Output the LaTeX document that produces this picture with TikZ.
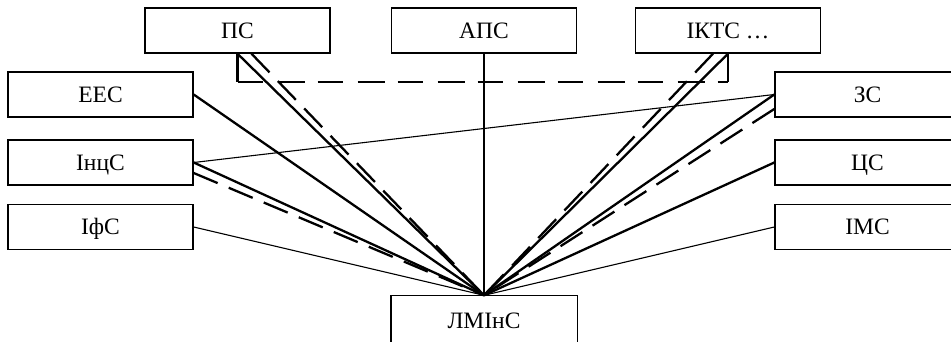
\documentclass[tikz,border=0pt]{standalone}
\usepackage{fontspec}
\setmainfont{Liberation Serif}
\begin{document}
\begin{tikzpicture}[x=1pt,y=-1pt,
  box/.style={draw,line width=1.4pt,minimum width=185pt,minimum height=45pt,inner sep=0pt,
    text height=15.6pt,text depth=0pt,font=\fontsize{23.5}{27}\selectfont},
  bare/.style={box,draw=none,text height=19pt},
  thk/.style={line width=2.3pt},
  thn/.style={line width=1.1pt},
  dsh/.style={line width=2.3pt,dash pattern=on 26pt off 12pt}]
\path[use as bounding box] (0,0) rectangle (951,341);
\clip (0,0) rectangle (951,341);
% boxes
\node[box] (ps)   at (237.5,30.5) {ПС};
\node[box] (aps)  at (484,30.5)   {АПС};
\node[box] (ikts) at (728,30.5)   {ІКТС …};
\node[box] (ees)  at (100.5,94.5) {ЕЕС};
\node[box] (inc)  at (100.5,162.5){ІнцС};
\node[box] (ifs)  at (100.5,227)  {ІфС};
\node[box] (zs)   at (867.5,94.5) {ЗС};
\node[box] (cs)   at (867.5,162.5){ЦС};
\node[box] (ims)  at (867.5,227)  {ІМС};
\node[bare] (lm)  at (484,318.5)  {ЛМІнС};
\draw[line width=1.4pt] ([yshift=-10pt]lm.south west) |- (lm.north east) -- ([yshift=-10pt]lm.south east);
% bracket
\draw[thk] (ps.south) -- ++(0,28.5) coordinate (bl);
\draw[thk] (ikts.south) -- ++(0,28.5) coordinate (br);
\draw[line width=2.3pt,dash pattern=on 25pt off 15pt on 27pt off 13pt] (bl) -- (br);
% connectors
\draw[thk] (ps.south) -- (lm.north);
\draw[dsh] ([xshift=14pt]ps.south) -- (lm.north);
\draw[thk] (aps.south) -- (lm.north);
\draw[thk] (ikts.south) -- (lm.north);
\draw[dsh] ([xshift=-15pt]ikts.south) -- (lm.north);
\draw[thk] (ees.east) -- (lm.north);
\draw[thn] (inc.east) -- (zs.west);
\draw[thk] (inc.east) -- (lm.north);
\draw[dsh] ([yshift=-10.5pt]inc.east) -- (lm.north);
\draw[thn] (ifs.east) -- (lm.north);
\draw[thk] (zs.west) -- (lm.north);
\draw[dsh] ([yshift=-14.5pt]zs.west) -- (lm.north);
\draw[thk] (cs.west) -- (lm.north);
\draw[thn] (ims.west) -- (lm.north);
\end{tikzpicture}
\end{document}
